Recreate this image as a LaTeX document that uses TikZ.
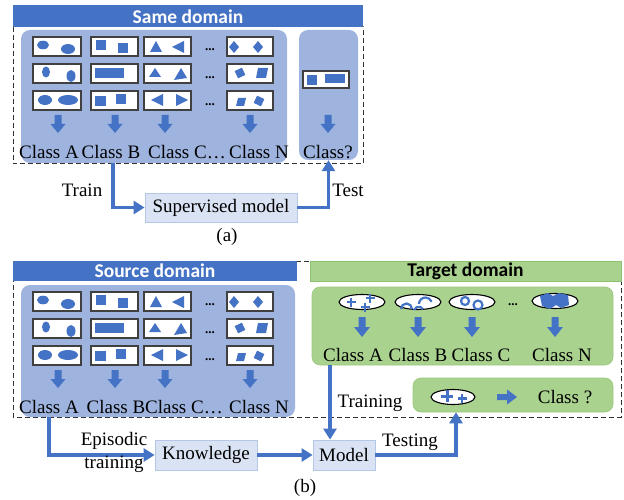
\documentclass[tikz,border=0pt]{standalone}
\usepackage{fontspec}
\setmainfont{Liberation Serif}
\newfontfamily\hdrfont{Carlito}
\usetikzlibrary{arrows.meta}
\definecolor{hblue}{HTML}{4472C4}
\definecolor{pblue}{HTML}{9EB4DF}
\definecolor{mblue}{HTML}{DAE3F3}
\definecolor{mbord}{HTML}{B4C7E7}
\definecolor{pgreen}{HTML}{AAD28F}
\definecolor{gbord}{HTML}{8DC26E}
\tikzset{
 lbl/.style={font=\fontsize{19}{21}\selectfont, inner sep=0pt},
 hdr/.style={font=\hdrfont\bfseries\fontsize{19.5}{21}\selectfont, inner sep=0pt},
 panel/.style={fill=pblue, rounded corners=9pt, inner sep=0pt},
 gpanel/.style={fill=pgreen, draw=gbord!60!pgreen, line width=0.6pt, rounded corners=8pt, inner sep=0pt},
 mbox/.style={fill=mblue, draw=mbord, line width=0.8pt, inner sep=0pt, font=\fontsize{19}{21}\selectfont},
 sbox/.style={draw=black!75, fill=white, line width=1.2pt},
 sh/.style={fill=hblue},
 ell/.style={draw=black, fill=white, line width=1.1pt},
 pls/.style={draw=hblue, line width=2.4pt},
 flow/.style={draw=hblue, line width=3.5pt, -{Triangle[length=11pt,width=13pt]}},
 dashbox/.style={draw=black!80, line width=1pt, dash pattern=on 5pt off 3pt},
 dots/.style={font=\bfseries\fontsize{13}{13}\selectfont, inner sep=0pt},
 blkdown/.pic={\fill[hblue] (-3.5,0) -- (3.5,0) -- (3.5,9) -- (7.5,9) -- (0,18) -- (-7.5,9) -- (-3.5,9) -- cycle;},
 blkdownB/.pic={\fill[hblue] (-3.5,0) -- (3.5,0) -- (3.5,10) -- (8,10) -- (0,20) -- (-8,10) -- (-3.5,10) -- cycle;},
}
\newcommand\samplegrid{%
 % boxes
 \foreach \xa/\xb in {33/81,91/138,144/191,227/273}{
   \draw[sbox] (\xa,37) rectangle (\xb,56);
   \draw[sbox] (\xa,64) rectangle (\xb,83);
   \draw[sbox] (\xa,91) rectangle (\xb,110);
 }
 % row 1
 \fill[sh] (43,45) ellipse [x radius=6, y radius=4.3];
 \fill[sh] (68,49) ellipse [x radius=7, y radius=5];
 \fill[sh] (96,40) rectangle (106,50);
 \fill[sh] (118,43) rectangle (128,53);
 \fill[sh] (150,52) -- (162,52) -- (156,41) -- cycle;
 \fill[sh] (184,41) -- (184,53) -- (172,47) -- cycle;
 \fill[sh] (234,41) -- (239,47) -- (234,53) -- (229,47) -- cycle;
 \fill[sh] (258,41) -- (263,47) -- (258,53) -- (253,47) -- cycle;
 % row 2
 \fill[sh] (46,72) ellipse [x radius=4, y radius=5.5];
 \fill[sh] (71,76) ellipse [x radius=4.5, y radius=6];
 \fill[sh] (95,68) rectangle (124,78);
 \fill[sh] (149,77) -- (161,77) -- (155,68) -- cycle;
 \fill[sh] (174,80) -- (187,78) -- (181,68) -- cycle;
 \fill[sh, rotate around={25:(240,73)}] (236,69) rectangle (244,77);
 \fill[sh] (256,78) -- (266,78) -- (268,68) -- (258,68) -- cycle;
 % row 3
 \fill[sh] (45,100) ellipse [x radius=7, y radius=5];
 \fill[sh] (68,100) ellipse [x radius=10, y radius=5];
 \fill[sh] (95,96) rectangle (106,106);
 \fill[sh] (116,94) rectangle (126,104);
 \fill[sh] (151,100) -- (163,94) -- (163,106) -- cycle;
 \fill[sh] (176,94) -- (188,100) -- (176,106) -- cycle;
 \fill[sh] (236,106) -- (244,106) -- (246,98) -- (238,98) -- cycle;
 \fill[sh, rotate around={-25:(259,101)}] (255,97) rectangle (263,105);
 % dots
 \node[dots] at (210,50) {...};
 \node[dots] at (210,78) {...};
 \node[dots] at (210,105) {...};
 % arrows
 \foreach \x in {58,115,165,250}{\pic at (\x,115) {blkdown};}
}
\begin{document}
\begin{tikzpicture}[x=1pt,y=-1pt]
\useasboundingbox (0,0) rectangle (624,500);
%%%%%%%%%%%%%%%% (a)
\node[panel, minimum width=266pt, minimum height=133pt] (srcA) at (154,96.5) {};
\node[panel, minimum width=59pt, minimum height=130pt] (qA) at (328.5,95) {};
\samplegrid
\draw[sbox] (303,71) rectangle (349,88);
\fill[sh] (307,75) rectangle (317,85);
\fill[sh] (325,74) rectangle (345,83);
\pic at (328,115) {blkdown};
\node[lbl] (la) at (49,152) {Class A};
\node[lbl] (lb) at (111,152) {Class B};
\node[lbl] (lc) at (187,152) {Class C…};
\node[lbl] (ln) at (259,152) {Class N};
\node[lbl] (lq) at (328,152) {Class?};
\draw[dashbox] (13,27) rectangle (363,164);
\fill[hblue] (13,5) rectangle (363,27);
\node[hdr, text=white] (hA) at (188,16.5) {Same domain};
\node[mbox, minimum width=152pt, minimum height=29pt] (sup) at (221,207.5) {Supervised model};
\coordinate (trA) at (113,0);
\draw[flow] (srcA.south -| trA) |- (sup.west);
\draw[flow] (sup.east) -| (qA.south);
\node[lbl] (train) at (82,190) {Train};
\node[lbl] (test) at (348,190) {Test};
\node[lbl] (capA) at (227,237) {(a)};
%%%%%%%%%%%%%%%% (b)
\node[panel, minimum width=274pt, minimum height=132pt] (srcB) at (158,351) {};
\begin{scope}[shift={(0,255)}]
\samplegrid
\end{scope}
\node[lbl] (lba) at (49,407) {Class A};
\node[lbl] (lbb) at (116,407) {Class B};
\node[lbl] (lbc) at (184,407) {Class C…};
\node[lbl] (lbn) at (259,407) {Class N};
\node[gpanel, minimum width=301pt, minimum height=78pt] (tgt) at (462.5,326) {};
\node[gpanel, minimum width=200pt, minimum height=34pt] (qB) at (513,395) {};
% target ellipses
\draw[ell] (362,302) ellipse [x radius=23, y radius=7.5];
\draw[pls] (346.5,302) -- (355.5,302) (351,297.5) -- (351,306.5);
\draw[pls] (365.5,298) -- (374.5,298) (370,293.5) -- (370,302.5);
\draw[pls] (360.5,307) -- (369.5,307) (365,302.5) -- (365,311.5);
\draw[ell] (418,302) ellipse [x radius=23, y radius=7.5];
\draw[draw=hblue, line width=2.2pt] (401,309) arc[start angle=180, end angle=360, radius=5.5];
\draw[draw=hblue, line width=2.2pt] (419,304) arc[start angle=180, end angle=340, radius=6.5];
\draw[draw=hblue, line width=2.2pt] (414,310) arc[start angle=200, end angle=330, radius=5];
\draw[ell] (472,302) ellipse [x radius=23, y radius=7.5];
\draw[draw=hblue, line width=2.2pt] (465,301) circle [radius=4];
\draw[draw=hblue, line width=2.2pt] (478,305) circle [radius=4.5];
\node[dots] at (513,305) {...};
\draw[ell] (555,301) ellipse [x radius=23, y radius=7.5];
\fill[hblue] (540,296) -- (548,293) -- (553,296) -- (559,293) -- (568,295) -- (569,305) -- (561,308) -- (556,305) -- (550,309) -- (542,306) -- cycle;
\foreach \x in {362,418,472,555}{\pic at (\x,317) {blkdownB};}
\node[lbl] (tla) at (353,355) {Class A};
\node[lbl] (tlb) at (418,355) {Class B};
\node[lbl] (tlc) at (481,355) {Class C};
\node[lbl] (tln) at (562,355) {Class N};
% query
\draw[ell] (453,397) ellipse [x radius=22, y radius=7.5];
\draw[draw=hblue, line width=3pt] (441,396) -- (453,396) (447,390) -- (447,402);
\draw[draw=hblue, line width=2.3pt] (457.5,398.5) -- (466.5,398.5) (462,394) -- (462,403);
\fill[hblue] (497,394) -- (507,394) -- (507,389.5) -- (517,397) -- (507,404.5) -- (507,400) -- (497,400) -- cycle;
\node[lbl] (qlab) at (565,397) {Class ?};
% dashed outline and headers
\draw[dashbox] (13,261) rectangle (621,417);
\fill[hblue] (13,261) rectangle (297,281);
\node[hdr, text=white] (hS) at (155,271) {Source domain};
\fill[pgreen] (310,261) rectangle (621,281);
\draw[gbord, line width=0.6pt] (310,261) rectangle (621,281);
\node[hdr, text=black] (hT) at (465.5,271) {Target domain};
% flow
\node[mbox, minimum width=102pt, minimum height=30pt] (know) at (206,455) {Knowledge};
\node[mbox, minimum width=62pt, minimum height=30pt] (model) at (344,455) {Model};
\coordinate (epx) at (49,0);
\coordinate (trx) at (330,0);
\coordinate (tsx) at (456,0);
\draw[flow] (srcB.south -| epx) |- (know.west);
\draw[flow] (know.east) -- (model.west);
\draw[flow] (tgt.south -| trx) -- (model.north -| trx);
\draw[flow] (model.east) -| (qB.south -| tsx);
\node[lbl] (ep1) at (114,441) {Episodic};
\node[lbl] (ep2) at (114,464) {training};
\node[lbl] (trn) at (370,403) {Training};
\node[lbl] (tst) at (410,442) {Testing};
\node[lbl] (capB) at (305,488) {(b)};
\end{tikzpicture}
\end{document}
